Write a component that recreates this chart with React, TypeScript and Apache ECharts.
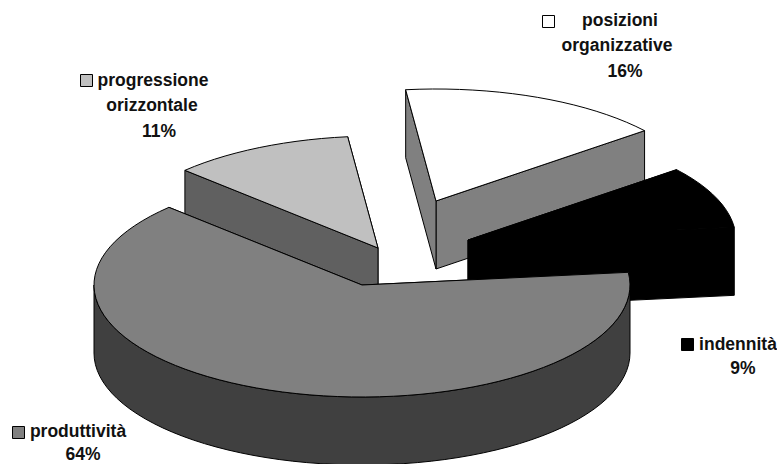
import React, { useEffect, useRef } from "react";
import * as echarts from "echarts";

// Budget shares, listed clockwise around the pie starting from the right-hand side.
const categories = ["produttività", "progressione orizzontale", "posizioni organizzative", "indennità"];
const shares = [64, 11, 16, 9];

// Pie geometry
const START_ANGLE = -6.5;
const RX = 268;
const RY = 112;
const DEPTH = 68;
const CENTRES: number[][] = [
  [362, 285],
  [378, 248],
  [436, 201],
  [468, 240],
];
// Farthest slices are painted first so that nearer ones overlap them.
const PAINT_ORDER = [2, 3, 1, 0];
const TOP_COLORS = ["#808080", "#c0c0c0", "#ffffff", "#000000"];
const SIDE_COLORS = ["#404040", "#606060", "#808080", "#000000"];

// Label placement: one entry per slice, each line centred on its x.
const LABEL_FONT = 'bold 17.5px "Liberation Sans", Arial, sans-serif';
const LABEL_LINES: { text: string; x: number; y: number }[][] = [
  [{ text: "produttività", x: 78, y: 431 }, { text: "64%", x: 83, y: 454 }],
  [
    { text: "progressione", x: 153, y: 80 },
    { text: "orizzontale", x: 152, y: 105 },
    { text: "11%", x: 159, y: 131 },
  ],
  [
    { text: "posizioni", x: 620, y: 20 },
    { text: "organizzative", x: 617, y: 45 },
    { text: "16%", x: 625, y: 71 },
  ],
  [{ text: "indennità", x: 738, y: 344 }, { text: "9%", x: 743, y: 368 }],
];
const KEY_BOXES: number[][] = [
  [12, 426],
  [80, 74],
  [542, 15],
  [681, 338],
];
const KEY_SIZE = 12;

const rad = (deg: number) => (deg * Math.PI) / 180;

function sliceSpan(index: number): [number, number] {
  const total = shares.reduce((a, b) => a + b, 0);
  const before = shares.slice(0, index).reduce((a, b) => a + b, 0);
  return [START_ANGLE + (before / total) * 360, START_ANGLE + ((before + shares[index]) / total) * 360];
}

function arcPoints(cx: number, cy: number, from: number, to: number): number[][] {
  const steps = Math.max(2, Math.ceil(Math.abs(to - from) / 3));
  const pts: number[][] = [];
  for (let s = 0; s <= steps; s++) {
    const a = rad(from + ((to - from) * s) / steps);
    pts.push([cx + RX * Math.cos(a), cy + RY * Math.sin(a)]);
  }
  return pts;
}

function renderSlice(_params: unknown, api: any) {
  const index = api.value(0) as number;
  const [cx, cy] = CENTRES[index];
  const [from, to] = sliceSpan(index);
  const side = SIDE_COLORS[index];
  const lineStyle = { stroke: "#000", lineWidth: 1, lineJoin: "round" as const };
  const sideStyle = { ...lineStyle, fill: side };
  const children: any[] = [];

  // Radial walls, running from the apex out to each end of the arc.
  for (const angle of [to, from]) {
    const [end] = arcPoints(cx, cy, angle, angle);
    children.push({
      type: "polygon",
      shape: {
        points: [[cx, cy], end, [end[0], end[1] + DEPTH], [cx, cy + DEPTH]],
      },
      style: sideStyle,
    });
  }

  // Outer rim: only the part of the arc that faces the viewer.
  const rimFrom = Math.max(from, 0);
  const rimTo = Math.min(to, 180);
  if (rimTo > rimFrom) {
    const upper = arcPoints(cx, cy, rimFrom, rimTo);
    const lower = upper.map(([x, y]) => [x, y + DEPTH]).reverse();
    children.push({ type: "polygon", shape: { points: [...upper, ...lower] }, style: sideStyle });
  }

  // Top face
  children.push({
    type: "polygon",
    shape: { points: [[cx, cy], ...arcPoints(cx, cy, from, to)] },
    style: { ...lineStyle, fill: TOP_COLORS[index] },
  });

  return { type: "group", children };
}

export default function App() {
  const ref = useRef<HTMLDivElement>(null);

  useEffect(() => {
    if (!ref.current) return;
    const chart = echarts.init(ref.current, undefined, { renderer: "svg" });

    const labelTexts = LABEL_LINES.flat().map((line) => ({
      type: "text",
      x: line.x,
      y: line.y,
      style: {
        text: line.text,
        font: LABEL_FONT,
        fill: "#111",
        align: "center",
        verticalAlign: "middle",
      },
    }));
    const keys = KEY_BOXES.map(([x, y], i) => ({
      type: "rect",
      shape: { x: x + 0.5, y: y + 0.5, width: KEY_SIZE, height: KEY_SIZE },
      style: { fill: TOP_COLORS[i], stroke: "#000", lineWidth: 1 },
    }));

    chart.setOption({
      animation: false,
      backgroundColor: "#fff",
      series: [
        {
          type: "custom",
          coordinateSystem: "none",
          silent: true,
          renderItem: renderSlice,
          data: PAINT_ORDER.map((i) => ({ name: categories[i], value: [i, shares[i]] })),
        },
      ],
      graphic: [...keys, ...labelTexts],
    });

    return () => chart.dispose();
  }, []);

  return <div ref={ref} style={{ position: "absolute", left: 0, top: 0, width: 777, height: 464 }} />;
}
